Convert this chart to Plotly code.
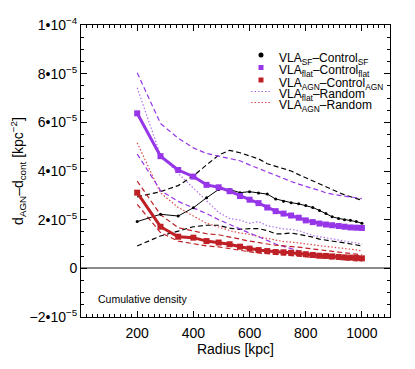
import plotly.graph_objects as go

# radius of each bin [kpc]
radius = [200, 283, 346, 400, 447, 490, 529, 566, 600, 632, 663, 693, 721,
          748, 775, 800, 825, 849, 872, 894, 917, 938, 959, 980, 1000]

# density differences, in units of 1e-5 kpc^-2
sf_ctrl = [1.92, 2.22, 2.15, 2.49, 2.90, 3.24, 3.24, 3.11, 3.15, 3.10, 3.05, 2.85, 2.76,
           2.70, 2.65, 2.58, 2.50, 2.38, 2.25, 2.12, 2.05, 2.00, 1.98, 1.92, 1.85]
sf_ctrl_hi = [2.94, 3.15, 3.40, 3.80, 4.25, 4.65, 4.85, 4.75, 4.62, 4.50, 4.30, 4.20, 4.10,
              4.00, 3.85, 3.72, 3.58, 3.45, 3.32, 3.22, 3.12, 3.02, 2.95, 2.88, 2.80]
sf_ctrl_lo = [0.92, 1.33, 1.53, 1.71, 1.77, 1.77, 1.65, 1.60, 1.63, 1.63, 1.55, 1.42, 1.42,
              1.45, 1.40, 1.35, 1.28, 1.20, 1.15, 1.12, 1.08, 1.05, 1.00, 0.96, 0.92]

flat_ctrl = [6.37, 4.61, 4.04, 3.77, 3.43, 3.33, 3.17, 2.97, 2.82, 2.68, 2.50, 2.35, 2.25,
             2.17, 2.08, 1.97, 1.90, 1.84, 1.80, 1.77, 1.74, 1.71, 1.68, 1.67, 1.66]
flat_ctrl_hi = [8.04, 5.95, 5.35, 4.95, 4.72, 4.62, 4.52, 4.42, 4.25, 4.10, 3.95, 3.80, 3.68,
                3.57, 3.46, 3.36, 3.28, 3.20, 3.10, 3.05, 3.00, 2.97, 2.93, 2.90, 2.86]
flat_ctrl_lo = [4.70, 3.20, 2.75, 2.50, 2.25, 2.00, 1.80, 1.60, 1.45, 1.30, 1.15, 1.00, 0.90,
                0.80, 0.72, 0.65, 0.60, 0.56, 0.53, 0.50, 0.49, 0.48, 0.47, 0.46, 0.46]

agn_ctrl = [3.11, 1.71, 1.30, 1.26, 1.12, 1.06, 0.99, 0.89, 0.81, 0.75, 0.71, 0.67, 0.66,
            0.64, 0.62, 0.58, 0.55, 0.52, 0.51, 0.49, 0.47, 0.45, 0.44, 0.43, 0.41]
agn_ctrl_hi = [3.59, 2.20, 1.67, 1.53, 1.42, 1.38, 1.30, 1.20, 1.12, 1.05, 1.00, 0.95, 0.93,
               0.90, 0.87, 0.83, 0.80, 0.76, 0.73, 0.70, 0.67, 0.64, 0.61, 0.58, 0.55]
agn_ctrl_lo = [2.63, 1.47, 1.12, 1.00, 0.92, 0.88, 0.80, 0.72, 0.68, 0.63, 0.60, 0.57, 0.55,
               0.53, 0.50, 0.47, 0.44, 0.41, 0.39, 0.37, 0.35, 0.33, 0.32, 0.31, 0.30]

flat_rand = [7.42, 4.65, 3.90, 3.30, 2.75, 2.30, 2.05, 1.98, 1.85, 1.92, 1.75, 1.68, 1.62,
             1.60, 1.55, 1.45, 1.35, 1.30, 1.25, 1.20, 1.15, 1.12, 1.08, 1.05, 1.00]
agn_rand = [5.16, 3.10, 2.50, 2.15, 1.85, 1.70, 1.55, 1.45, 1.40, 1.30, 1.22, 1.15, 1.10,
            1.08, 1.05, 1.00, 0.97, 0.93, 0.90, 0.87, 0.85, 0.82, 0.80, 0.76, 0.71]

y_tickvals = [-2, 0, 2, 4, 6, 8, 10]
y_ticktext = ["\u22122\u202210<sup>\u22125</sup>", "0", "2\u202210<sup>\u22125</sup>",
              "4\u202210<sup>\u22125</sup>", "6\u202210<sup>\u22125</sup>",
              "8\u202210<sup>\u22125</sup>", "1\u202210<sup>\u22124</sup>"]
x_tickvals = [200, 400, 600, 800, 1000]

BLACK = "#000000"
PURPLE = "#9636E8"
RED = "#BE2025"
LPURPLE = "#B070F0"
LRED = "#E04848"

fig = go.Figure()


def add_line(y, color, width, dash="solid"):
    fig.add_trace(go.Scatter(x=radius, y=y, mode="lines",
                             line=dict(color=color, width=width, dash=dash),
                             showlegend=False, hoverinfo="skip"))


add_line(flat_rand, LPURPLE, 1.2, "1.5px,2px")
add_line(agn_rand, LRED, 1.2, "1.5px,2px")
add_line(sf_ctrl_hi, BLACK, 1.2, "5px,3px")
add_line(sf_ctrl_lo, BLACK, 1.2, "5px,3px")
add_line(flat_ctrl_hi, PURPLE, 1.2, "5px,3px")
add_line(flat_ctrl_lo, PURPLE, 1.2, "5px,3px")
add_line(agn_ctrl_hi, RED, 1.2, "5px,3px")
add_line(agn_ctrl_lo, RED, 1.2, "5px,3px")

fig.add_trace(go.Scatter(x=radius, y=sf_ctrl, mode="lines+markers",
                         line=dict(color=BLACK, width=1),
                         marker=dict(color=BLACK, size=3, symbol="circle"),
                         showlegend=False))
fig.add_trace(go.Scatter(x=radius, y=flat_ctrl, mode="lines+markers",
                         line=dict(color=PURPLE, width=3),
                         marker=dict(color=PURPLE, size=6, symbol="square"),
                         showlegend=False))
fig.add_trace(go.Scatter(x=radius, y=agn_ctrl, mode="lines+markers",
                         line=dict(color=RED, width=3),
                         marker=dict(color=RED, size=6, symbol="square"),
                         showlegend=False))

# hand-made legend (paper coords of the plot area, in page pixels)
L, R, T, B = 81, 390, 25, 317


def px(x):
    return (x - L) / (R - L)


def py(y):
    return (B - y) / (B - T)


legend_rows = [
    ("VLA<sub>SF</sub>\u2013Control<sub>SF</sub>", "circle", BLACK, 55),
    ("VLA<sub>flat</sub>\u2013Control<sub>flat</sub>", "square", PURPLE, 67.5),
    ("VLA<sub>AGN</sub>\u2013Control<sub>AGN</sub>", "square", RED, 80),
    ("VLA<sub>flat</sub>\u2013Random", "dot", LPURPLE, 91.5),
    ("VLA<sub>AGN</sub>\u2013Random", "dot", LRED, 102.5),
]
shapes = []
annotations = []
for label, kind, color, yrow in legend_rows:
    if kind == "circle":
        shapes.append(dict(type="circle", xref="paper", yref="paper",
                           x0=px(258.5), x1=px(263.5), y0=py(yrow + 2.5), y1=py(yrow - 2.5),
                           fillcolor=color, line=dict(width=0)))
    elif kind == "square":
        shapes.append(dict(type="rect", xref="paper", yref="paper",
                           x0=px(258.5), x1=px(263.5), y0=py(yrow + 2.5), y1=py(yrow - 2.5),
                           fillcolor=color, line=dict(width=0)))
    else:
        shapes.append(dict(type="line", xref="paper", yref="paper",
                           x0=px(251), x1=px(271), y0=py(yrow), y1=py(yrow),
                           line=dict(color=color, width=1.2, dash="1.5px,2px")))
    annotations.append(dict(text=label, xref="paper", yref="paper",
                            x=px(277), y=py(yrow - 6.5), xanchor="left", yanchor="top",
                            showarrow=False, font=dict(size=12, color="black")))

annotations.append(dict(text="Cumulative density", xref="paper", yref="paper",
                        x=px(96), y=py(299), xanchor="left", yanchor="middle",
                        showarrow=False, font=dict(size=10.5, color="black")))

# page body adds 8px on top/left, so the figure is a bit smaller than the window
fig.update_layout(
    width=407,
    height=361,
    margin=dict(l=73, r=25, t=17, b=52),
    paper_bgcolor="white",
    plot_bgcolor="white",
    font=dict(family="Liberation Sans, Arial, sans-serif", color="black", size=14),
    showlegend=False,
    shapes=shapes,
    annotations=annotations,
    xaxis=dict(
        range=[0, 1100],
        tickvals=x_tickvals,
        ticks="inside", ticklen=6, tickwidth=1, tickcolor="black",
        minor=dict(ticks="inside", ticklen=3, dtick=20, tick0=0, tickcolor="black"),
        showline=True, linecolor="black", linewidth=1, mirror="ticks",
        showgrid=False, zeroline=False, automargin=False,
        ticklabelstandoff=3,
        title=dict(text="Radius [kpc]", standoff=3, font=dict(size=14)),
        tickfont=dict(size=14),
    ),
    yaxis=dict(
        range=[-2, 10],
        tickvals=y_tickvals,
        ticktext=y_ticktext,
        ticks="inside", ticklen=6, tickwidth=1, tickcolor="black",
        minor=dict(ticks="inside", ticklen=3, dtick=0.5, tick0=0, tickcolor="black"),
        showline=True, linecolor="black", linewidth=1, mirror="ticks",
        showgrid=False, automargin=False,
        zeroline=True, zerolinecolor="#8c8c8c", zerolinewidth=1.5,
        title=dict(text="d<sub>AGN</sub>\u2013d<sub>cont</sub> [kpc<sup>\u22122</sup>]",
                   standoff=4, font=dict(size=14)),
        tickfont=dict(size=14),
    ),
)

fig.write_html("out.html")
